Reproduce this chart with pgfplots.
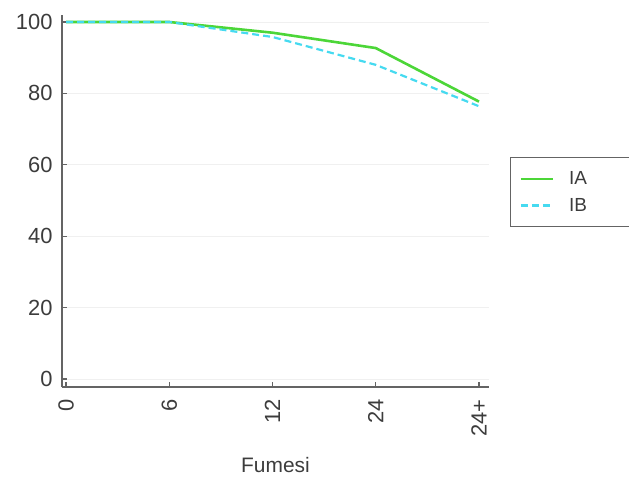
\documentclass[border=0pt]{standalone}
\usepackage{pgfplots}
\pgfplotsset{compat=1.18}
\usepackage{fontspec}
\setmainfont{Liberation Sans}
\definecolor{ia}{RGB}{76,214,56}
\definecolor{ib}{RGB}{70,218,240}
\definecolor{txt}{RGB}{60,60,60}
\definecolor{ax}{RGB}{100,100,100}
\begin{document}
\begin{tikzpicture}
\path[use as bounding box, clip] (0,0) rectangle (629bp,499bp);
\begin{axis}[
  at={(62bp,112bp)}, anchor=south west,
  width=427bp, height=372bp, scale only axis,
  xmin=-0.039, xmax=4.097, ymin=-2.24, ymax=101.96,
  axis x line=bottom, axis y line=left,
  axis line style={ax, line width=1.6bp, -},
  xtick={0,1,2,3,4}, xticklabels={0,6,12,24,24+},
  ytick={0,20,40,60,80,100},
  tick align=inside, major tick length=5bp,
  tick style={ax, line width=1.2bp},
  x tick label style={rotate=90, anchor=east, font=\fontsize{22}{25}\selectfont, text=txt},
  y tick label style={font=\fontsize{22}{25}\selectfont, text=txt},
  xticklabel shift=9bp, yticklabel shift=6bp,
  /pgf/number format/assume math mode=true,
  ymajorgrids, grid style={gray!12, line width=0.8bp},
  xlabel={Fumesi},
  xlabel style={at={(axis description cs:0.5,-0.21)}, anchor=center, font=\fontsize{21}{24}\selectfont, text=txt},
  legend style={at={(axis description cs:1.049,0.618)}, anchor=north west,
    draw=ax, line width=1.2bp, font=\fontsize{19}{22}\selectfont, text=txt,
    inner xsep=9bp, inner ysep=12bp, row sep=8bp,
    cells={anchor=west}},
  legend image code/.code={\draw[#1] (0bp,0bp) -- (32bp,0bp);},
  legend cell align=left,
]
\addplot[ia, line width=2.6bp] coordinates {(0,100) (1,100) (2,97) (3,92.7) (4,77.7)};
\addlegendentry{\hspace*{13bp}IA\hspace*{50bp}}
\addplot[ib, line width=2.2bp, dash pattern=on 7bp off 4bp] coordinates {(0,100) (1,100) (2,95.8) (3,88) (4,76.4)};
\addlegendentry{\hspace*{13bp}IB\hspace*{50bp}}
\end{axis}
\end{tikzpicture}
\end{document}
